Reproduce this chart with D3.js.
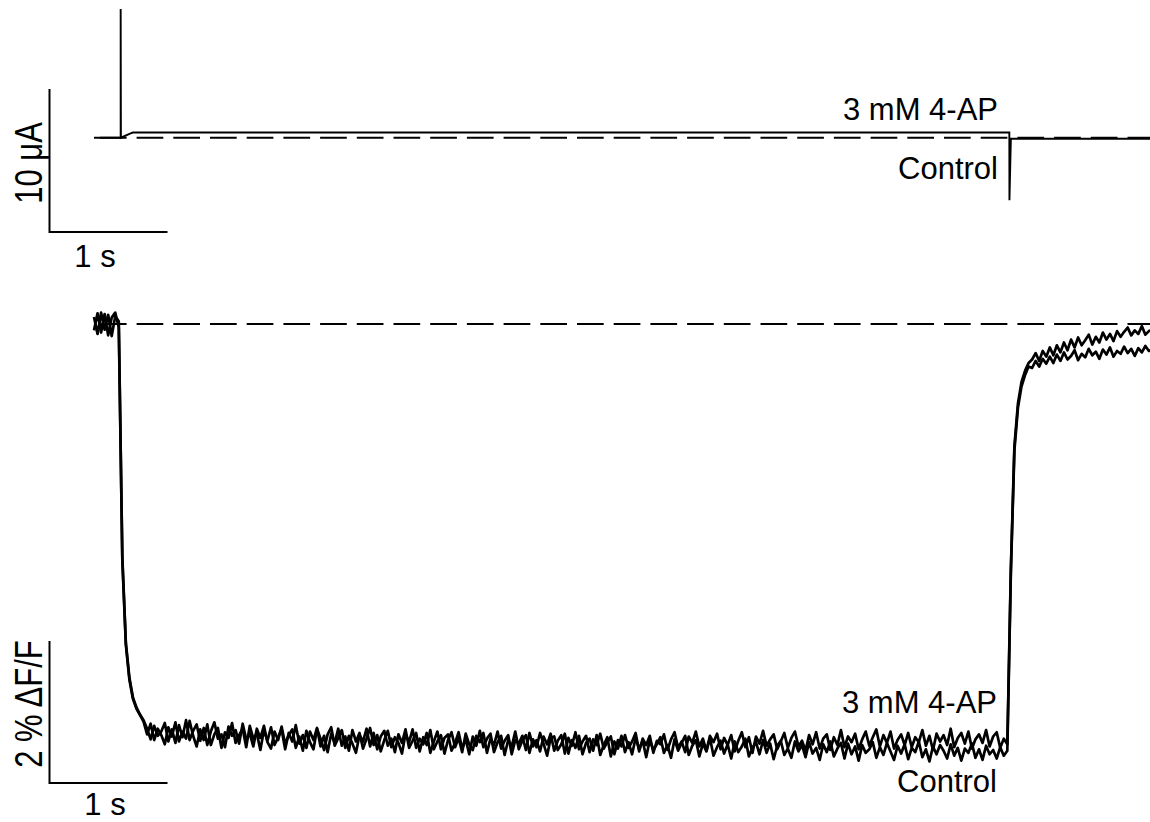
<!DOCTYPE html>
<html>
<head>
<meta charset="utf-8">
<script src="https://cdn.jsdelivr.net/npm/d3@7"></script>
<style>
  html, body { margin: 0; padding: 0; background: #fff; }
  svg { display: block; }
  text { font-family: "Liberation Sans", Arial, Helvetica, sans-serif; fill: #000; }
</style>
</head>
<body>
<svg id="chart" width="1150" height="822"></svg>
<script>
// ---- Membrane current (μA) during the voltage step, piecewise trace ----
const currentTime = [0, 0.226, 0.226, 0.228, 0.31, 0.33, 7.757, 7.758, 7.77, 8.95];
const currentTrace = [0, 0, 9.0, 0, 0.30, 0.36, 0.36, -4.37, -0.07, -0.07];

// ---- Fluorescence (% ΔF/F), sampled every 30 ms ----
const sampleInterval = 0.03;
const fluoControl = [
  0.10, -0.14, 0.16, -0.08, 0.13, -0.17, 0.11, 0.04, -3.32, -4.52,
  -5.01, -5.28, -5.42, -5.51, -5.60, -5.78, -5.63, -5.86, -5.70, -5.79,
  -5.92, -5.68, -5.81, -5.61, -5.88, -5.74, -5.84, -5.59, -5.80, -5.95,
  -5.71, -5.86, -5.64, -5.93, -5.78, -5.69, -5.97, -5.75, -5.83, -5.62,
  -5.90, -5.79, -5.70, -5.96, -5.66, -5.84, -5.77, -6.00, -5.72, -5.87,
  -5.68, -5.93, -5.82, -5.71, -5.99, -5.76, -5.88, -5.65, -5.91, -5.79,
  -5.97, -5.74, -5.86, -5.69, -5.95, -5.80, -6.03, -5.77, -5.90, -5.70,
  -5.94, -5.81, -6.01, -5.72, -5.88, -5.76, -5.98, -5.84, -5.69, -5.93,
  -5.79, -6.02, -5.86, -5.73, -5.96, -5.82, -5.90, -6.05, -5.77, -5.89,
  -5.71, -5.97, -5.84, -5.92, -5.76, -6.04, -5.88, -5.74, -5.99, -5.83,
  -5.78, -6.01, -5.90, -5.75, -5.98, -5.85, -6.06, -5.81, -5.94, -5.73,
  -5.96, -5.84, -5.77, -6.03, -5.89, -5.80, -6.07, -5.86, -5.95, -5.74,
  -5.99, -5.87, -5.79, -6.04, -5.85, -5.96, -5.76, -5.91, -6.08, -5.83,
  -5.81, -6.00, -5.92, -5.77, -6.05, -5.86, -5.97, -5.80, -6.06, -5.90,
  -5.84, -6.01, -5.79, -6.07, -5.93, -5.82, -6.09, -5.88, -5.98, -5.80,
  -6.03, -5.89, -6.06, -5.83, -5.99, -5.87, -6.10, -5.86, -6.00, -5.92,
  -5.82, -6.04, -5.93, -6.11, -5.85, -6.01, -5.90, -5.80, -6.07, -5.94,
  -5.86, -6.09, -5.91, -6.02, -5.83, -6.08, -5.96, -5.87, -6.05, -5.92,
  -6.12, -5.88, -6.03, -5.95, -5.84, -6.09, -5.97, -5.89, -6.06, -5.86,
  -6.04, -5.91, -6.13, -5.94, -5.87, -6.07, -5.98, -6.11, -5.88, -6.02,
  -5.93, -6.10, -5.89, -6.05, -5.97, -6.14, -5.92, -6.03, -5.88, -6.09,
  -5.98, -5.90, -6.12, -5.91, -6.06, -5.95, -6.15, -5.93, -6.04, -5.99,
  -5.89, -6.11, -5.96, -6.07, -5.90, -6.02, -6.14, -5.94, -6.05, -5.92,
  -6.13, -5.97, -6.03, -5.88, -6.10, -5.99, -6.16, -5.95, -6.06, -5.93,
  -6.01, -6.12, -5.92, -6.08, -5.97, -6.15, -5.98, -6.04, -5.91, -6.11,
  -5.99, -6.14, -5.94, -6.06, -6.00, -6.12, -5.96, -6.08, -6.01, -3.50,
  -1.78, -1.18, -0.88, -0.72, -0.60, -0.62, -0.52, -0.60, -0.49, -0.56,
  -0.46, -0.55, -0.43, -0.52, -0.40, -0.50, -0.45, -0.37, -0.51, -0.42,
  -0.47, -0.35, -0.44, -0.39, -0.49, -0.36, -0.43, -0.33, -0.46, -0.38,
  -0.42, -0.32, -0.41, -0.35, -0.45, -0.34, -0.40, -0.31, -0.38, -0.36
];
const fluo4AP = [
  -0.09, 0.15, -0.12, 0.14, -0.16, 0.09, 0.16, -0.05, -3.28, -4.49,
  -4.98, -5.26, -5.40, -5.50, -5.58, -5.70, -5.85, -5.66, -5.80, -5.74,
  -5.62, -5.88, -5.71, -5.90, -5.65, -5.82, -5.58, -5.86, -5.73, -5.64,
  -5.87, -5.69, -5.93, -5.74, -5.61, -5.84, -5.78, -5.96, -5.67, -5.80,
  -5.72, -5.91, -5.63, -5.85, -5.77, -5.95, -5.70, -5.83, -5.66, -5.89,
  -5.98, -5.74, -5.86, -5.67, -5.92, -5.79, -5.71, -5.97, -5.81, -6.01,
  -5.73, -5.89, -5.99, -5.70, -5.84, -6.00, -5.78, -5.68, -5.94, -5.83,
  -5.72, -5.97, -5.80, -5.91, -6.04, -5.79, -5.88, -5.70, -5.95, -5.76,
  -5.99, -5.81, -5.73, -5.94, -5.84, -6.03, -5.78, -5.90, -5.71, -5.97,
  -5.87, -5.76, -6.02, -5.82, -5.93, -5.72, -5.99, -5.88, -5.79, -6.05,
  -5.86, -5.75, -5.96, -5.83, -6.03, -5.77, -5.92, -6.00, -5.80, -5.89,
  -5.76, -6.04, -5.84, -5.93, -5.74, -5.98, -5.87, -5.79, -6.06, -5.86,
  -5.91, -5.80, -6.00, -5.76, -5.95, -5.86, -6.02, -5.81, -5.92, -5.77,
  -6.01, -5.87, -5.79, -6.05, -5.83, -5.94, -5.75, -5.99, -5.88, -5.80,
  -6.03, -5.85, -5.93, -5.77, -5.98, -5.89, -5.81, -6.06, -5.86, -5.95,
  -5.79, -5.97, -5.88, -5.76, -6.02, -5.84, -5.93, -5.80, -6.04, -5.87,
  -5.92, -5.78, -6.00, -5.85, -5.75, -5.97, -5.88, -6.03, -5.81, -5.90,
  -5.74, -5.95, -5.84, -6.01, -5.80, -5.89, -5.77, -5.99, -5.83, -5.93,
  -5.79, -6.02, -5.87, -5.75, -5.96, -5.82, -6.04, -5.81, -5.91, -5.73,
  -5.94, -5.85, -5.78, -5.99, -5.88, -5.76, -5.97, -5.83, -5.74, -5.95,
  -5.87, -6.01, -5.79, -5.92, -5.75, -5.98, -5.84, -5.78, -6.00, -5.82,
  -5.93, -5.72, -5.96, -5.81, -5.89, -5.77, -5.99, -5.85, -5.74, -5.94,
  -5.82, -5.71, -5.95, -5.79, -5.90, -5.74, -5.98, -5.86, -5.78, -5.93,
  -5.76, -5.96, -5.82, -5.89, -5.72, -5.94, -5.80, -6.00, -5.77, -5.88,
  -5.79, -5.93, -5.70, -5.96, -5.83, -5.76, -5.91, -5.74, -5.98, -5.85,
  -5.78, -5.90, -5.72, -5.95, -5.81, -5.75, -5.97, -5.84, -5.92, -3.45,
  -1.72, -1.12, -0.82, -0.66, -0.55, -0.50, -0.41, -0.52, -0.38, -0.46,
  -0.33, -0.44, -0.30, -0.40, -0.26, -0.37, -0.22, -0.33, -0.19, -0.30,
  -0.23, -0.15, -0.29, -0.18, -0.26, -0.12, -0.22, -0.14, -0.24, -0.10,
  -0.18, -0.11, -0.05, -0.16, -0.09, -0.14, -0.03, -0.15, -0.10, -0.08
];

// ---- Reference (zero) lines and calibration bars ----
const baselineSpan = [0.05, 8.95];   // seconds
const timeBar = 1;                   // s
const currentBar = 10;               // μA
const fluoBar = 2;                   // % ΔF/F

// ---- Labels ----
const traceLabels = ["3 mM 4-AP", "Control"];
const currentUnit = "10 μA";
const fluoUnit = "2 % ΔF/F";
const timeUnit = "1 s";

const svg = d3.select("#chart");

// Shared time axis (118 px per second)
const x = d3.scaleLinear().domain([0, 1]).range([94, 212]);
// Current panel: 14.3 px per μA, zero at y = 137.7
const yI = d3.scaleLinear().domain([0, 10]).range([137.7, -5.3]);
// Fluorescence panel: 71 px per 1 % ΔF/F, zero at y = 324
const yF = d3.scaleLinear().domain([0, -2]).range([324, 466]);

const ink = "#000";

// ---------- Upper panel: current ----------
const currentPanel = svg.append("g");

currentPanel.append("line")
  .attr("x1", x(baselineSpan[0])).attr("x2", x(baselineSpan[1]))
  .attr("y1", yI(0)).attr("y2", yI(0))
  .attr("stroke", ink).attr("stroke-width", 2)
  .attr("stroke-dasharray", "26.7 10");

const currentLine = d3.line()
  .x((d, i) => x(currentTime[i]))
  .y(d => yI(d));

currentPanel.append("path")
  .datum(currentTrace)
  .attr("d", currentLine)
  .attr("fill", "none")
  .attr("stroke", ink)
  .attr("stroke-width", 1.9);

// Calibration bar, current panel
const barX0 = 49.5, barY0 = 232;
currentPanel.append("path")
  .attr("d", `M${barX0},${barY0 - (yI(0) - yI(currentBar))}V${barY0}H${barX0 + x(timeBar) - x(0)}`)
  .attr("fill", "none").attr("stroke", ink).attr("stroke-width", 2);

currentPanel.append("text")
  .attr("x", 95).attr("y", 266.5)
  .attr("text-anchor", "middle")
  .attr("font-size", 31)
  .text(timeUnit);

currentPanel.append("text")
  .attr("transform", "translate(42,163) rotate(-90) scale(1,1.24)")
  .attr("text-anchor", "middle")
  .attr("font-size", 31)
  .text(currentUnit);

currentPanel.append("text")
  .attr("x", 998).attr("y", 120)
  .attr("text-anchor", "end")
  .attr("font-size", 31)
  .text(traceLabels[0]);

currentPanel.append("text")
  .attr("x", 998).attr("y", 179)
  .attr("text-anchor", "end")
  .attr("font-size", 31)
  .text(traceLabels[1]);

// ---------- Lower panel: fluorescence ----------
const fluoPanel = svg.append("g");

fluoPanel.append("line")
  .attr("x1", x(baselineSpan[0])).attr("x2", x(baselineSpan[1]))
  .attr("y1", yF(0)).attr("y2", yF(0))
  .attr("stroke", ink).attr("stroke-width", 2)
  .attr("stroke-dasharray", "26.7 10");

const fluoLine = d3.line()
  .x((d, i) => x(i * sampleInterval))
  .y(d => yF(d));

[fluoControl, fluo4AP].forEach(series => {
  fluoPanel.append("path")
    .datum(series)
    .attr("d", fluoLine)
    .attr("fill", "none")
    .attr("stroke", ink)
    .attr("stroke-width", 2.7)
    .attr("stroke-linejoin", "round");
});

// Calibration bar, fluorescence panel
const bar2X0 = 49.5, bar2Y0 = 783;
fluoPanel.append("path")
  .attr("d", `M${bar2X0},${bar2Y0 - (yF(-fluoBar) - yF(0))}V${bar2Y0}H${bar2X0 + x(timeBar) - x(0)}`)
  .attr("fill", "none").attr("stroke", ink).attr("stroke-width", 2);

fluoPanel.append("text")
  .attr("x", 105).attr("y", 815)
  .attr("text-anchor", "middle")
  .attr("font-size", 31)
  .text(timeUnit);

fluoPanel.append("text")
  .attr("transform", "translate(42,704) rotate(-90) scale(1,1.24)")
  .attr("text-anchor", "middle")
  .attr("font-size", 31)
  .text(fluoUnit);

fluoPanel.append("text")
  .attr("x", 997).attr("y", 713)
  .attr("text-anchor", "end")
  .attr("font-size", 31)
  .text(traceLabels[0]);

fluoPanel.append("text")
  .attr("x", 997).attr("y", 792)
  .attr("text-anchor", "end")
  .attr("font-size", 31)
  .text(traceLabels[1]);
</script>
</body>
</html>
